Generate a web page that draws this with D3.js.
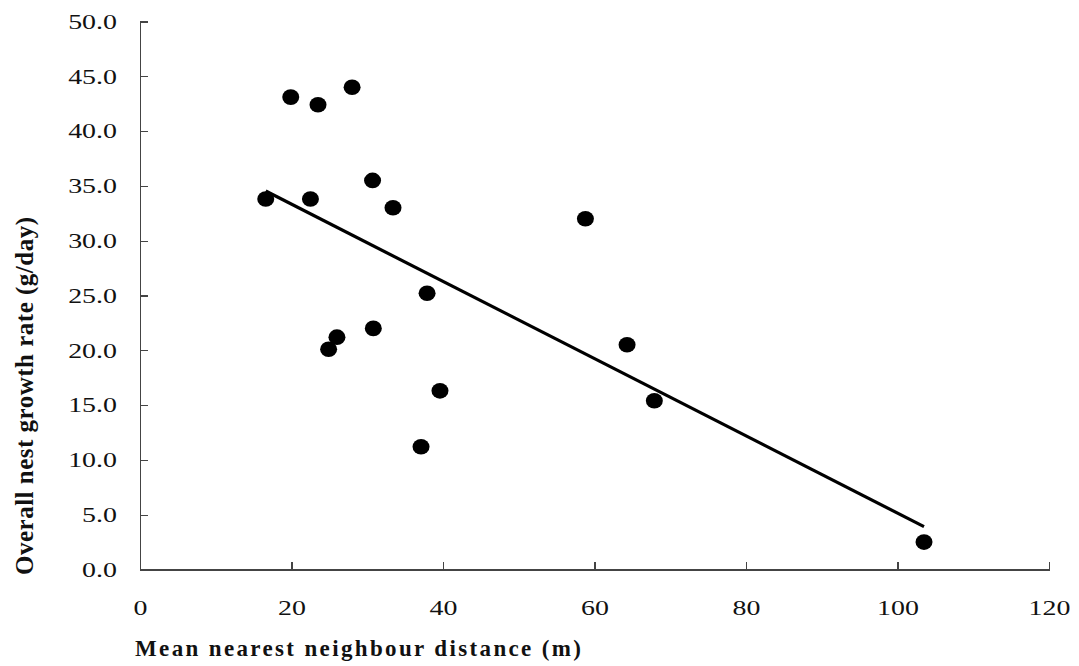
<!DOCTYPE html>
<html>
<head>
<meta charset="utf-8">
<script src="https://cdn.jsdelivr.net/npm/d3@7"></script>
<style>
  html, body { margin: 0; padding: 0; background: #fff; }
  svg { display: block; }
  .tick text { font-family: "Liberation Serif", "Times New Roman", serif; font-size: 21px; fill: #111; }
  .axis path, .axis line { stroke: #444; stroke-width: 1.2; shape-rendering: crispEdges; }
  .title { font-family: "Liberation Serif", "Times New Roman", serif; font-weight: bold; fill: #111; }
</style>
</head>
<body>
<svg id="chart" width="1079" height="666"></svg>
<script>
// Mean nearest neighbour distance (m) for each nest
const distance = [16.6, 19.9, 22.5, 23.5, 28.0, 30.7, 33.4, 37.9, 30.8, 26.0, 24.9, 39.6, 37.1, 58.8, 64.3, 67.9, 103.5];
// Overall nest growth rate (g/day) for each nest
const growth   = [33.8, 43.1, 33.8, 42.4, 44.0, 35.5, 33.0, 25.2, 22.0, 21.2, 20.1, 16.3, 11.2, 32.0, 20.5, 15.4, 2.5];

const xTicks = [0, 20, 40, 60, 80, 100, 120];
const yTicks = [0, 5, 10, 15, 20, 25, 30, 35, 40, 45, 50];

const xTitle = "Mean nearest neighbour distance (m)";
const yTitle = "Overall nest growth rate (g/day)";

const svg = d3.select("#chart");

const x = d3.scaleLinear().domain([0, 120]).range([140, 1049]);
const y = d3.scaleLinear().domain([0, 50]).range([569.5, 21.5]);

// Tick labels are set in a wide serif face
const widen = 1.33;

// Axes with inward-facing ticks
const gx = svg.append("g")
  .attr("class", "axis")
  .attr("transform", `translate(0,${y(0)})`)
  .call(d3.axisBottom(x).tickValues(xTicks).tickFormat(d3.format("d"))
        .tickSizeInner(-8).tickSizeOuter(0));
gx.selectAll(".tick text")
  .attr("y", 0).attr("x", 0)
  .attr("transform", `translate(0,31) scale(${widen},1)`);

const gy = svg.append("g")
  .attr("class", "axis")
  .attr("transform", `translate(${x(0)},0)`)
  .call(d3.axisLeft(y).tickValues(yTicks).tickFormat(d3.format(".1f"))
        .tickSizeInner(-8).tickSizeOuter(0));
gy.selectAll(".tick text")
  .attr("x", 0)
  .attr("transform", `translate(-23,0) scale(${widen},1)`);

// Least-squares trend line over the observed distance range
const mx = d3.mean(distance), my = d3.mean(growth);
const sxy = d3.sum(distance, (d, i) => (d - mx) * (growth[i] - my));
const sxx = d3.sum(distance, d => (d - mx) * (d - mx));
const slope = sxy / sxx;
const intercept = my - slope * mx;
const [xmin, xmax] = d3.extent(distance);
const fit = [xmin, xmax].map(d => [d, intercept + slope * d]);

svg.append("path")
  .datum(fit)
  .attr("fill", "none")
  .attr("stroke", "#000")
  .attr("stroke-width", 3.2)
  .attr("d", d3.line().x(d => x(d[0])).y(d => y(d[1])));

// Nest points
svg.append("g")
  .selectAll("ellipse")
  .data(distance.map((d, i) => [d, growth[i]]))
  .join("ellipse")
  .attr("cx", d => x(d[0]))
  .attr("cy", d => y(d[1]))
  .attr("rx", 8.5)
  .attr("ry", 7.8)
  .attr("fill", "#000");

// Axis titles
svg.append("text")
  .attr("class", "title")
  .attr("x", 135)
  .attr("y", 656)
  .attr("font-size", "23px")
  .attr("textLength", 446)
  .attr("lengthAdjust", "spacing")
  .text(xTitle);

svg.append("text")
  .attr("class", "title")
  .attr("transform", `translate(33,575) rotate(-90)`)
  .attr("font-size", "25px")
  .attr("textLength", 358)
  .attr("lengthAdjust", "spacing")
  .text(yTitle);
</script>
</body>
</html>
